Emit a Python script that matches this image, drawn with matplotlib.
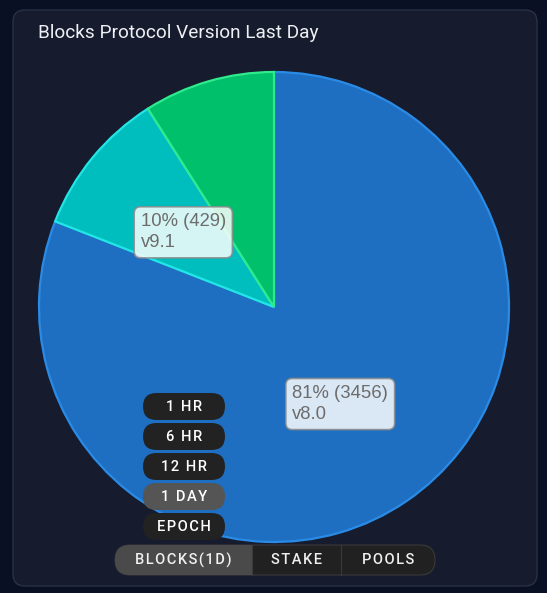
import matplotlib
matplotlib.use("Agg")
import matplotlib.pyplot as plt
from matplotlib.patches import FancyBboxPatch, Rectangle
import numpy as np

plt.rcParams['font.family'] = ['Roboto', 'DejaVu Sans']

# ---- data ----
versions = ["v8.0", "v9.1", "other"]
blocks = [3456, 429, 385]
show_label = [True, True, False]
colors = ["#1e6fc1", "#00bebe", "#00c06b"]
edge_colors = ["#2a8be6", "#22e6e6", "#30ea8e"]
title = "Blocks Protocol Version Last Day"
time_buttons = ["1 HR", "6 HR", "12 HR", "1 DAY", "EPOCH"]
active_time = "1 DAY"
tabs = ["BLOCKS(1D)", "STAKE", "POOLS"]
active_tab = "BLOCKS(1D)"


def spaced(s):
    return "\u200a".join(s)


W, H = 547, 593
fig = plt.figure(figsize=(W / 100, H / 100), dpi=100)
fig.patch.set_facecolor("#0a1024")

bg = fig.add_axes([0, 0, 1, 1], zorder=0)
bg.set_xlim(0, W)
bg.set_ylim(H, 0)
bg.axis("off")
card = FancyBboxPatch((13, 10), 524, 576, boxstyle="round,pad=0,rounding_size=12",
                      facecolor="#161b2d", edgecolor="#2a3045", linewidth=1)
bg.add_patch(card)
bg.text(38, 32.5, title, color="#eef0f4", fontsize=13.7, va="center", ha="left")

# pie axes
cx, cy, R = 274, 307, 235
pax = fig.add_axes([(cx - R) / W, (H - cy - R) / H, 2 * R / W, 2 * R / H], zorder=1)
wedges, _ = pax.pie(blocks, colors=colors, startangle=90, counterclock=False,
                    wedgeprops=dict(linewidth=1.6))
for w, ec in zip(wedges, edge_colors):
    w.set_edgecolor(ec)
pax.set_xlim(-1, 1)
pax.set_ylim(-1, 1)
pax.set_aspect("equal")
pax.axis("off")

total = sum(blocks)
for w, v, name, show in zip(wedges, blocks, versions, show_label):
    if not show:
        continue
    ang = np.deg2rad((w.theta1 + w.theta2) / 2)
    x, y = 0.5 * np.cos(ang), 0.5 * np.sin(ang)
    pct = round(100 * v / total)
    pax.text(x, y, f"{pct}% ({v})\n{name}", ha="center", va="center", multialignment="left",
             fontsize=13.3, color="#6c6c6c", linespacing=1.32, zorder=5,
             family=["Liberation Sans", "DejaVu Sans"],
             bbox=dict(boxstyle="round,pad=0.35,rounding_size=0.35", facecolor="#ffffff",
                       alpha=0.84, edgecolor="#8a8a8a", linewidth=1.2))

ov = fig.add_axes([0, 0, 1, 1], zorder=3)
ov.set_xlim(0, W)
ov.set_ylim(H, 0)
ov.axis("off")

bx0, bw, bh = 143, 82, 27
by0, step = 393, 30
for i, lab in enumerate(time_buttons):
    y = by0 + i * step
    fc = "#555555" if lab == active_time else "#222222"
    ov.add_patch(FancyBboxPatch((bx0, y), bw, bh, boxstyle=f"round,pad=0,rounding_size={bh/2}",
                                facecolor=fc, edgecolor="none"))
    ov.text(bx0 + bw / 2, y + bh / 2 + 0.5, spaced(lab), color="white", fontsize=10.5,
            fontweight="medium", ha="center", va="center")

tx0, tx1, ty, th = 115, 435, 545, 30
seps = [115, 252, 341, 435]
ov.add_patch(FancyBboxPatch((tx0, ty), tx1 - tx0, th, boxstyle=f"round,pad=0,rounding_size={th/2}",
                            facecolor="#212121", edgecolor="#3a3a3a", linewidth=0.8))
act_i = tabs.index(active_tab)
a0, a1 = seps[act_i], seps[act_i + 1]
ov.add_patch(FancyBboxPatch((a0, ty), a1 - a0, th, boxstyle=f"round,pad=0,rounding_size={th/2}",
                            facecolor="#4a4a4a", edgecolor="none"))
ov.add_patch(Rectangle((a0 + th / 2, ty), a1 - a0 - th / 2, th, facecolor="#4a4a4a", edgecolor="none"))
for s in seps[1:-1]:
    ov.plot([s, s], [ty, ty + th], color="#3a3a3a", linewidth=0.8)
for i, lab in enumerate(tabs):
    ov.text((seps[i] + seps[i + 1]) / 2, ty + th / 2 + 0.5, spaced(lab), color="#f0f0f0",
            fontsize=10.5, fontweight="medium", ha="center", va="center")

fig.savefig("out.png", dpi=100, facecolor=fig.get_facecolor())
